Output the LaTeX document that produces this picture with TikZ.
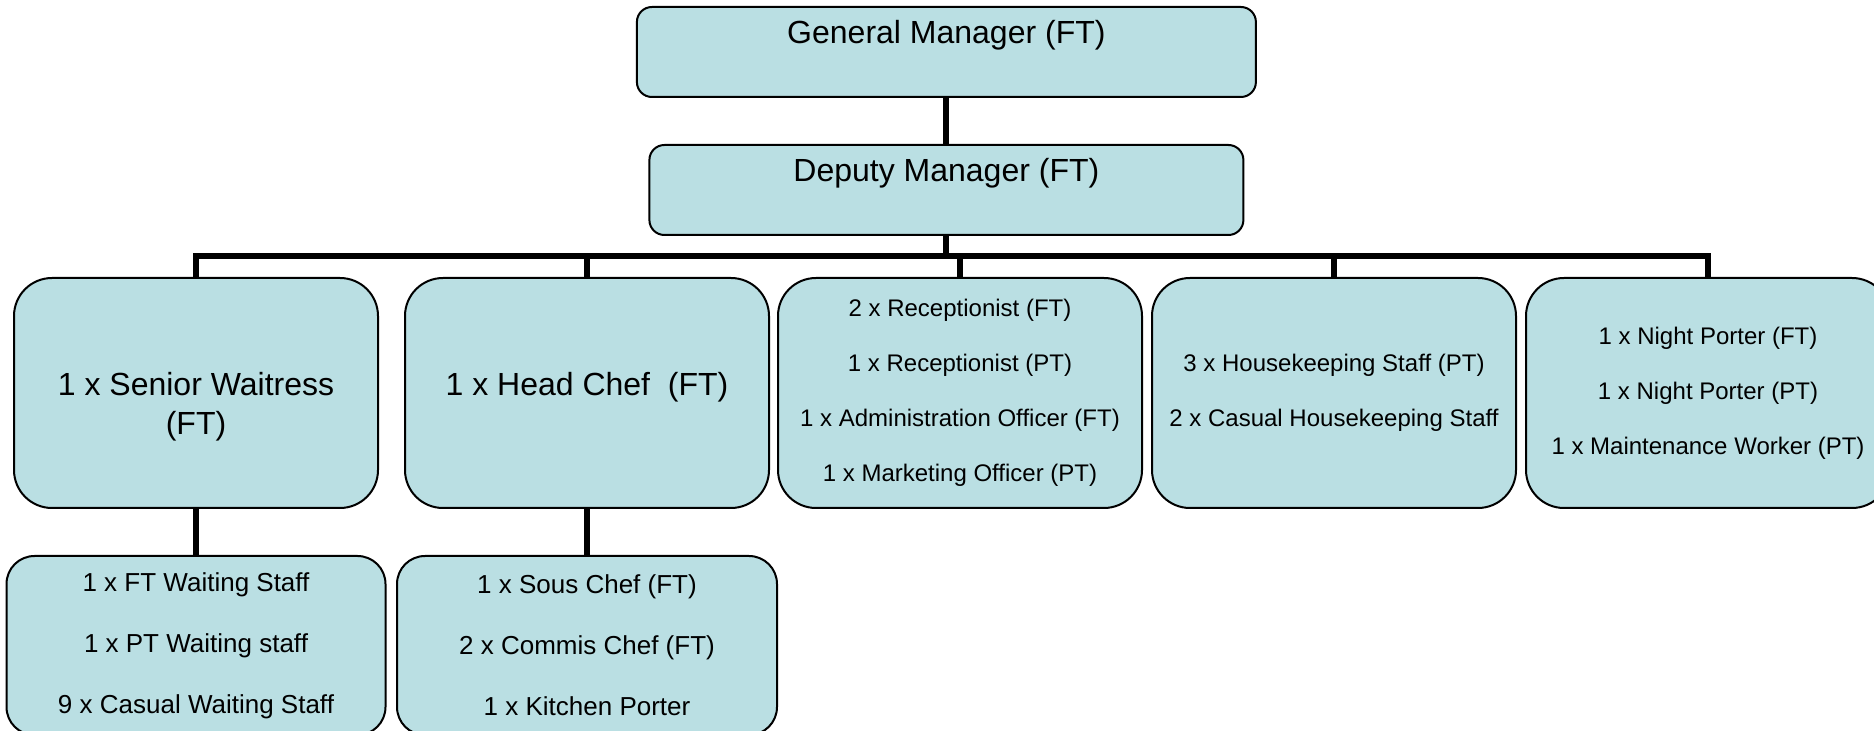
\documentclass[tikz,border=0pt]{standalone}
\usepackage{fontspec}
\setmainfont{Liberation Sans}
\usetikzlibrary{positioning}
\definecolor{paleblue}{RGB}{186,223,227}

\begin{document}
\begin{tikzpicture}[
  post/.style={draw, line width=1pt, fill=paleblue, align=center, inner sep=2pt, rounded corners=#1},
  post/.default=19pt,
  dept/.style={post, minimum width=182pt, minimum height=115pt},
  team/.style={post=14pt, minimum height=89.5pt, font=\fontsize{13}{30.5}\selectfont},
  big/.style={font=\fontsize{16}{19.5}\selectfont},
  small/.style={font=\fontsize{12}{27.5}\selectfont},
  report/.style={line width=3pt},
]
  \useasboundingbox (0,0) rectangle (937pt,-365.5pt);

  % managers
  \node[post=7.5pt, big, minimum width=309.5pt, minimum height=45pt, text depth=20pt] (gm) at (473.2pt,-26pt) {General Manager (FT)};
  \node[post=7.5pt, big, minimum width=297pt, minimum height=45pt, text depth=20pt, below=23pt of gm] (dm) {Deputy Manager (FT)};

  % departments
  \node[dept, big, text height=45pt] (waiting) at (98pt,-196.5pt) {1 x Senior Waitress\\(FT)};
  \node[dept, big, text depth=9.5pt, right=12.5pt of waiting] (kitchen) {1 x Head Chef~ (FT)};
  \node[dept, small, right=3.5pt of kitchen] (office) {2 x Receptionist (FT)\\1 x Receptionist (PT)\\1 x Administration Officer (FT)\\1 x Marketing Officer (PT)};
  \node[dept, small, right=4pt of office] (housekeeping) {3 x Housekeeping Staff (PT)\\2 x Casual Housekeeping Staff};
  \node[dept, small, right=4pt of housekeeping] (night) {1 x Night Porter (FT)\\1 x Night Porter (PT)\\1 x Maintenance Worker (PT)};

  % staff under the heads
  \node[team, minimum width=189.5pt, below=23pt of waiting] (waitstaff) {1 x FT Waiting Staff\\1 x PT Waiting staff\\9 x Casual Waiting Staff};
  \node[team, minimum width=190pt, below=23pt of kitchen] (chefs) {1 x Sous Chef (FT)\\2 x Commis Chef (FT)\\1 x Kitchen Porter};

  \coordinate (bar) at (0,-128pt);

  \draw[report] (gm) -- (dm);
  \draw[report] (dm.south) -- (dm.south |- bar);
  \draw[report] (waiting.north) -- (waiting.north |- bar) -- (night.north |- bar) -- (night.north);
  \draw[report] (kitchen.north) -- (kitchen.north |- bar);
  \draw[report] (office.north) -- (office.north |- bar);
  \draw[report] (housekeeping.north) -- (housekeeping.north |- bar);
  \draw[report] (waiting) -- (waitstaff);
  \draw[report] (kitchen) -- (chefs);
\end{tikzpicture}
\end{document}
